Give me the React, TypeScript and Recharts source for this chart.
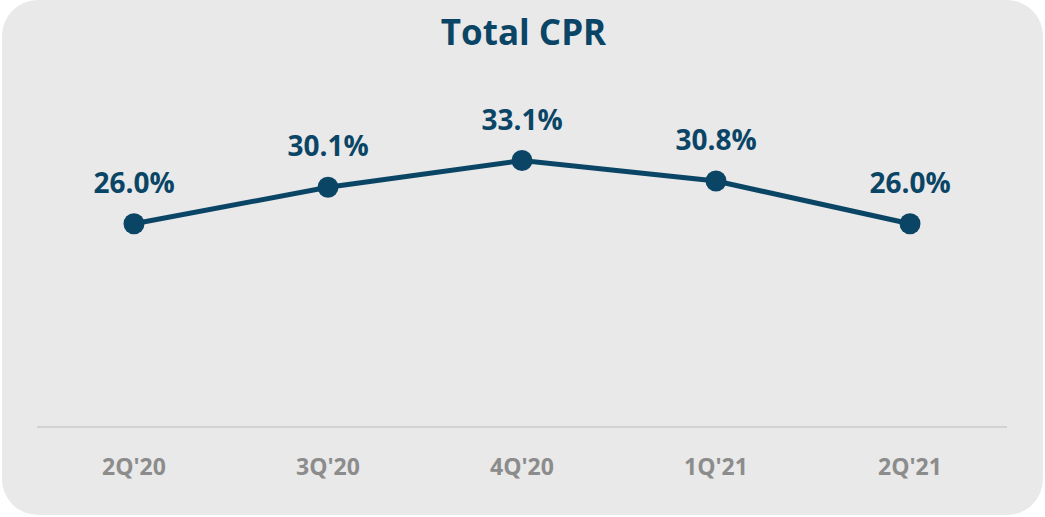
import { LineChart, Line, XAxis, YAxis, LabelList } from "recharts";

const quarters = ["2Q'20", "3Q'20", "4Q'20", "1Q'21", "2Q'21"];
const cprValues = [26.0, 30.1, 33.1, 30.8, 26.0];

const chartData = quarters.map((q, i) => ({ quarter: q, cpr: cprValues[i] }));

const NAVY = "#0b4566";
const FONT = "'Open Sans', 'Noto Sans', sans-serif";

export default function App() {
  return (
    <div
      style={{
        position: "fixed",
        left: 0,
        top: 0,
        width: 1045,
        height: 517,
        background: "#ffffff",
        fontFamily: FONT,
      }}
    >
      <div
        style={{
          position: "absolute",
          left: 2,
          top: 0,
          width: 1041,
          height: 515,
          background: "#e9e9e9",
          borderRadius: 36,
          overflow: "hidden",
        }}
      >
        <div
          style={{
            position: "absolute",
            left: 0,
            top: 8,
            width: 1043,
            textAlign: "center",
            fontSize: 35,
            fontWeight: 700,
            color: NAVY,
            lineHeight: "48px",
          }}
        >
          Total CPR
        </div>
        <LineChart
          width={1041}
          height={515}
          data={chartData}
          margin={{ top: 99, right: 36, bottom: 28, left: 35 }}
        >
          <XAxis
            dataKey="quarter"
            height={60}
            padding={{ left: 97, right: 97 }}
            axisLine={{ stroke: "#d2d2d2", strokeWidth: 2 }}
            tickLine={false}
            tickSize={0}
            tickMargin={32}
            tick={{ fill: "#8c8c8c", fontSize: 23, fontWeight: 700, fontFamily: FONT }}
          />
          <YAxis hide domain={[3.2, 40]} />
          <Line
            dataKey="cpr"
            stroke={NAVY}
            strokeWidth={5}
            dot={{ r: 10.5, fill: NAVY, stroke: NAVY, strokeWidth: 0 }}
            isAnimationActive={false}
          >
            <LabelList
              dataKey="cpr"
              position="top"
              offset={31}
              formatter={(v: number) => `${v.toFixed(1)}%`}
              style={{ fill: NAVY, fontSize: 28, fontWeight: 700, fontFamily: FONT }}
            />
          </Line>
        </LineChart>
      </div>
    </div>
  );
}
